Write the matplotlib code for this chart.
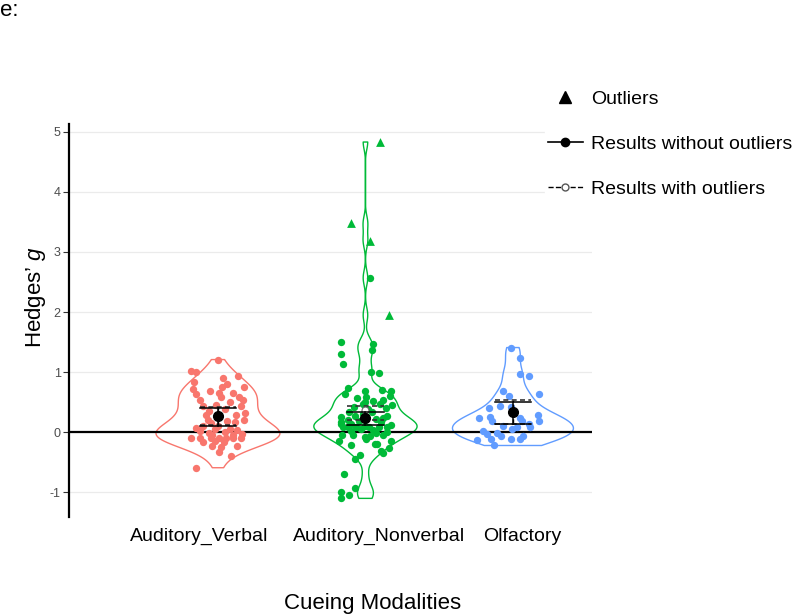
import numpy as np
import matplotlib
matplotlib.use("Agg")
import matplotlib.pyplot as plt
from matplotlib.lines import Line2D

plt.rcParams['font.family'] = ['Liberation Sans', 'DejaVu Sans']
plt.rcParams['mathtext.fontset'] = 'custom'
plt.rcParams['mathtext.it'] = 'Liberation Sans:italic'
plt.rcParams['axes.unicode_minus'] = False

# ---- data ----
categorias = ["Auditory_Verbal", "Auditory_Nonverbal", "Olfactory"]
cores = ["#F8766D", "#00BA38", "#619CFF"]

# Auditory_Verbal: (jitter, Hedges' g)
av_g = [1.21, 1.02, 1.00, 0.94, 0.91, 0.83, 0.81, 0.76, 0.76, 0.72, 0.69, 0.65, 0.65, 0.63,
        0.59, 0.59, 0.53, 0.53, 0.50, 0.46, 0.43, 0.43, 0.39, 0.36, 0.32, 0.28, 0.28, 0.21,
        0.21, 0.19, 0.17, 0.16, 0.11, 0.11, 0.07, 0.05, 0.05, 0.04, 0.02, 0.00, -0.01, -0.03,
        -0.05, -0.05, -0.09, -0.10, -0.10, -0.09, -0.09, -0.09, -0.09, -0.17, -0.15, -0.17,
        -0.23, -0.24, -0.23, -0.33, -0.39, -0.59]
av_jit = [0.00, -0.18, -0.15, 0.135, 0.036, -0.16, 0.058, 0.176, 0.027, -0.166, -0.054, 0.009,
          0.099, -0.148, 0.144, 0.018, 0.171, -0.121, 0.081, -0.01, -0.10, 0.153, 0.045, -0.06,
          0.18, -0.08, 0.12, 0.176, -0.065, 0.058, 0.113, -0.05, -0.10, 0.0, -0.15, -0.02, 0.081,
          0.131, -0.12, 0.05, -0.06, 0.16, -0.04, 0.10, -0.18, -0.12, -0.05, 0.008, 0.054, 0.099,
          0.158, -0.099, -0.018, 0.04, -0.04, 0.018, 0.13, 0.009, 0.09, -0.15]

# Auditory_Nonverbal (regular points)
an_g = [2.57, 1.51, 1.47, 1.31, 1.37, 1.13, 1.01, 0.99, 0.745, 0.63, 0.68, 0.70, 0.68, 0.59,
        0.60, 0.53, 0.51, 0.52, 0.42, 0.47, 0.47, 0.455, 0.255, 0.345, 0.27, 0.33, 0.245, 0.27,
        0.17, 0.145, 0.19, 0.17, 0.09, 0.08, 0.09, 0.09, 0.13, 0.09, 0.11, 0.08, -0.045, -0.045,
        -0.08, -0.02, -0.045, 0.0, -0.145, -0.22, -0.11, -0.20, -0.19, -0.145, -0.255, -0.31,
        -0.345, -0.37, -0.445, -0.70, -0.92, -0.99, -1.045, -1.10,
        0.38, 0.30, 0.22, 0.21, 0.02, 0.03, 0.12, 0.40, 0.57, 0.05, -0.06]
an_jit = [0.032, -0.165, 0.05, -0.163, 0.045, -0.149, 0.036, 0.09, -0.117, -0.136, 0.0, 0.113,
          0.172, 0.005, 0.167, 0.117, -0.005, 0.05, -0.081, -0.018, 0.1, 0.18, -0.167, -0.113,
          -0.068, 0.045, 0.122, 0.144, -0.167, -0.095, -0.041, 0.108, -0.149, -0.063, 0.027,
          0.144, -0.165, -0.12, 0.0, 0.095, -0.158, -0.086, -0.005, 0.072, 0.117, 0.149, -0.181,
          -0.095, 0.005, 0.063, 0.077, 0.176, 0.163, 0.104, 0.117, -0.036, -0.068, -0.144,
          -0.068, -0.163, -0.113, -0.163,
          0.02, -0.02, 0.07, -0.12, -0.10, 0.05, 0.17, 0.14, -0.06, -0.03, 0.03]
# Auditory_Nonverbal outliers (triangles)
an_out_g = [4.83, 3.48, 3.19, 1.95]
an_out_jit = [0.10, -0.10, 0.034, 0.157]

# Olfactory
olf_g = [1.41, 1.24, 0.97, 0.94, 0.68, 0.64, 0.60, 0.41, 0.43, 0.42, 0.24, 0.25, 0.28, 0.18,
         0.18, 0.24, 0.19, 0.13, 0.02, 0.10, 0.06, 0.08, 0.08, -0.03, -0.02, -0.07, -0.13,
         -0.11, -0.11, -0.07, -0.11, -0.22]
olf_jit = [-0.01, 0.045, 0.047, 0.11, -0.07, 0.178, -0.03, -0.164, -0.09, -0.01, -0.23, -0.155,
           0.169, 0.18, -0.14, 0.047, 0.06, 0.106, -0.205, -0.066, -0.007, 0.025, 0.115, -0.174,
           -0.11, -0.083, -0.241, -0.15, -0.016, 0.066, 0.047, -0.128]

# summary estimates
media_sem = [0.265, 0.24, 0.33]
ic_sem_inf = [0.11, 0.12, 0.14]
ic_sem_sup = [0.40, 0.34, 0.50]
media_com = [0.27, 0.365, 0.33]
ic_com_inf = [0.12, 0.20, 0.14]
ic_com_sup = [0.42, 0.44, 0.53]

# ---- layout ----
posicoes = [1, 2, 3]
pos_rotulos = [0.872, 2.095, 3.061]
larguras = [0.84, 0.70, 0.82]
ajuste_bw = [1.0, 0.7, 1.0]
cap = 0.125

fig = plt.figure(figsize=(8, 6.15), dpi=100)
ax = fig.add_axes([69 / 800, 1 - 517 / 615, (592 - 69) / 800, (517 - 124) / 615])

grupos = [av_g, an_g + an_out_g, olf_g]
for i, dados in enumerate(grupos):
    d = np.array(dados)
    sd = d.std(ddof=1)
    iqr = np.subtract(*np.percentile(d, [75, 25]))
    bw = 0.9 * min(sd, iqr / 1.34) * len(d) ** -0.2 * ajuste_bw[i]
    vp = ax.violinplot([d], positions=[posicoes[i]], widths=larguras[i], points=400,
                       showextrema=False, bw_method=lambda k, f=bw / sd: f)
    for b in vp['bodies']:
        b.set_facecolor('none')
        b.set_edgecolor(cores[i])
        b.set_linewidth(1.0)
        b.set_alpha(1)
        b.set_zorder(2)

ax.axhline(0, color='black', lw=1.6, zorder=2.5)

pontos = [(av_jit, av_g), (an_jit, an_g), (olf_jit, olf_g)]
for i, (jx, gy) in enumerate(pontos):
    ax.scatter(np.array(jx) + posicoes[i], gy, s=28, color=cores[i], lw=0, zorder=3)
ax.scatter(np.array(an_out_jit) + posicoes[1], an_out_g, s=40, marker='^',
           color=cores[1], lw=0, zorder=3)

for i, p in enumerate(posicoes):
    # with outliers (dashed)
    ax.plot([p, p], [ic_com_inf[i], ic_com_sup[i]], color='black', ls='--', lw=1.0, zorder=4)
    for yv in (ic_com_inf[i], ic_com_sup[i]):
        ax.plot([p - cap, p + cap], [yv, yv], color='#333333', ls=(0, (3, 2)), lw=1.2, zorder=4)
    ax.plot(p, media_com[i], 'o', ms=5, mfc='white', mec='#666666', mew=0.8, zorder=4)
    # without outliers (solid)
    ax.plot([p, p], [ic_sem_inf[i], ic_sem_sup[i]], color='black', lw=1.1, zorder=5)
    for yv in (ic_sem_inf[i], ic_sem_sup[i]):
        ax.plot([p - cap, p + cap], [yv, yv], color='black', lw=1.1, zorder=5)
    ax.plot(p, media_sem[i], 'o', ms=7, color='black', zorder=6)

ax.set_xlim(-0.01, 3.536)
ax.set_ylim(-1.41, 5.13)
ax.set_yticks([-1, 0, 1, 2, 3, 4, 5])
ax.set_xticks(pos_rotulos)
ax.set_xticklabels(categorias, fontsize=14, color='black')
ax.tick_params(axis='x', length=0, pad=8)
ax.tick_params(axis='y', length=4, width=0.8, color='#333333', labelcolor='#4D4D4D',
               labelsize=9, pad=2)
ax.grid(axis='y', color='#EBEBEB', lw=0.9, zorder=0)
ax.set_axisbelow(True)
for s in ['top', 'right', 'bottom']:
    ax.spines[s].set_visible(False)
ax.spines['left'].set_linewidth(1.6)
ax.spines['left'].set_color('black')

fig.text(35 / 800, 1 - 297 / 615, "Hedges’ $g$", rotation=90, fontsize=16,
         ha='center', va='center')
fig.text(373 / 800, 1 - 603 / 615, "Cueing Modalities", fontsize=16,
         ha='center', va='center')
fig.text(0.0, 1 - 16 / 615, "e:", fontsize=16, ha='left', va='baseline')

handles = [
    Line2D([], [], marker='^', color='black', ls='none', ms=8),
    Line2D([], [], marker='o', color='black', ls='-', lw=1.2, ms=6),
    Line2D([], [], marker='o', color='black', ls='--', lw=1.0, ms=5, mfc='white',
           mec='#555555'),
]
rotulos = ["Outliers", "Results without outliers", "Results with outliers"]
leg = fig.legend(handles, rotulos, loc='upper left', bbox_to_anchor=(545 / 800, 1 - 87 / 615),
                 frameon=True, fontsize=14, handlelength=1.8, handletextpad=0.4,
                 labelspacing=1.42, borderpad=0.15, borderaxespad=0, fancybox=False)
leg.get_frame().set_facecolor('white')
leg.get_frame().set_edgecolor('white')
leg.get_frame().set_alpha(1)

fig.savefig("out.png", dpi=100)
